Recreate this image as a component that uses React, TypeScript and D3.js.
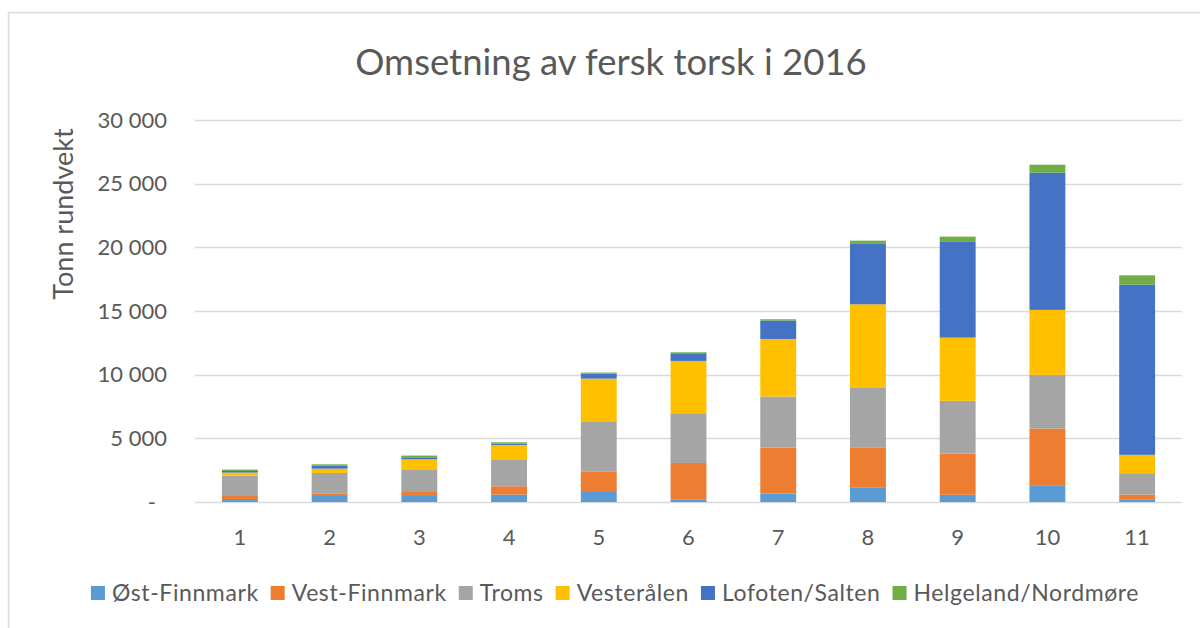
import React, { useEffect, useRef } from "react";
import * as d3 from "d3";

// Months of 2016 (x categories)
const months = ["1", "2", "3", "4", "5", "6", "7", "8", "9", "10", "11"];

// Tonnes per region
const ostFinnmark = [235, 470, 470, 580, 785, 210, 660, 1115, 565, 1320, 220];
const vestFinnmark = [235, 210, 315, 655, 1625, 2855, 3615, 3140, 3240, 4450, 370];
const troms = [1605, 1600, 1730, 2065, 3930, 3905, 4005, 4755, 4140, 4215, 1670];
const vesteralen = [235, 340, 840, 1180, 3350, 4110, 4525, 6515, 4965, 5100, 1445];
const lofotenSalten = [125, 240, 155, 110, 395, 600, 1445, 4790, 7515, 10780, 13365];
const helgelandNordmore = [110, 100, 135, 100, 80, 80, 100, 210, 415, 625, 730];

const seriesNames = [
  "Øst-Finnmark",
  "Vest-Finnmark",
  "Troms",
  "Vesterålen",
  "Lofoten/Salten",
  "Helgeland/Nordmøre",
];
const seriesColors = ["#5b9bd5", "#ed7d31", "#a5a5a5", "#ffc000", "#4472c4", "#70ad47"];
const yTicks = [0, 5000, 10000, 15000, 20000, 25000, 30000];

const FONT = "Lato, 'Open Sans', sans-serif";
const TEXT = "#595959";

function App() {
  const ref = useRef<SVGSVGElement | null>(null);

  useEffect(() => {
    if (!ref.current) return;
    const svg = d3.select(ref.current);
    svg.selectAll("*").remove();

    const W = 1200;
    const H = 628;
    const plot = { left: 195, right: 1182, top: 120, bottom: 502 };

    // chart frame
    svg
      .append("rect")
      .attr("x", 8.5)
      .attr("y", 12.5)
      .attr("width", W + 20)
      .attr("height", H + 20)
      .attr("fill", "#fff")
      .attr("stroke", "#d9d9d9")
      .attr("stroke-width", 1.5);

    const allSeries = [ostFinnmark, vestFinnmark, troms, vesteralen, lofotenSalten, helgelandNordmore];
    const table = months.map((m, i) => {
      const row: any = { month: m };
      seriesNames.forEach((s, j) => (row[s] = allSeries[j][i]));
      return row;
    });

    const x = d3.scaleBand().domain(months).range([plot.left, plot.right]).padding(0);
    const y = d3.scaleLinear().domain([0, 30000]).range([plot.bottom, plot.top]);

    // gridlines
    svg
      .append("g")
      .selectAll("line")
      .data(yTicks)
      .enter()
      .append("line")
      .attr("x1", plot.left)
      .attr("x2", plot.right)
      .attr("y1", (d) => Math.round(y(d)) + 0.5)
      .attr("y2", (d) => Math.round(y(d)) + 0.5)
      .attr("stroke", "#d9d9d9")
      .attr("stroke-width", 1.3);

    // y tick labels
    svg
      .append("g")
      .selectAll("text")
      .data(yTicks)
      .enter()
      .append("text")
      .attr("x", (d) => (d === 0 ? 156 : 167))
      .attr("y", (d) => y(d))
      .attr("dy", "0.35em")
      .attr("text-anchor", "end")
      .attr("font-family", FONT)
      .attr("font-size", 22)
      .attr("fill", TEXT)
      .text((d) => (d === 0 ? "-" : d3.format(",")(d).replace(",", " ")));

    // stacked bars
    const stack = d3.stack<any>().keys(seriesNames)(table);
    const barW = x.bandwidth() * 0.4;
    svg
      .append("g")
      .selectAll("g")
      .data(stack)
      .enter()
      .append("g")
      .attr("fill", (_d, i) => seriesColors[i])
      .selectAll("rect")
      .data((d) => d)
      .enter()
      .append("rect")
      .attr("x", (d: any) => (x(d.data.month) as number) + (x.bandwidth() - barW) / 2)
      .attr("width", barW)
      .attr("y", (d) => y(d[1]))
      .attr("height", (d) => y(d[0]) - y(d[1]));

    // x labels
    svg
      .append("g")
      .selectAll("text")
      .data(months)
      .enter()
      .append("text")
      .attr("x", (d) => (x(d) as number) + x.bandwidth() / 2)
      .attr("y", 545)
      .attr("text-anchor", "middle")
      .attr("font-family", FONT)
      .attr("font-size", 22)
      .attr("fill", TEXT)
      .text((d) => d);

    // title
    svg
      .append("text")
      .attr("x", 611)
      .attr("y", 75)
      .attr("text-anchor", "middle")
      .attr("font-family", FONT)
      .attr("font-size", 36.5)
      .attr("fill", TEXT)
      .text("Omsetning av fersk torsk i 2016");

    // y axis title
    svg
      .append("text")
      .attr("transform", "translate(73,214) rotate(-90)")
      .attr("text-anchor", "middle")
      .attr("font-family", FONT)
      .attr("font-size", 27)
      .attr("fill", TEXT)
      .text("Tonn rundvekt");

    // legend, centred under the chart
    const legend = svg.append("g");
    const items = legend
      .selectAll("g")
      .data(seriesNames)
      .enter()
      .append("g");
    items
      .append("rect")
      .attr("y", 586)
      .attr("width", 14)
      .attr("height", 14)
      .attr("fill", (_d, i) => seriesColors[i]);
    items
      .append("text")
      .attr("x", 21)
      .attr("y", 593)
      .attr("dy", "0.35em")
      .attr("font-family", FONT)
      .attr("font-size", 23)
      .attr("letter-spacing", 0.6)
      .attr("fill", TEXT)
      .text((d) => d);
    let offset = 0;
    const widths: number[] = [];
    items.each(function () {
      const t = d3.select(this).select("text").node() as SVGTextElement;
      widths.push(21 + t.getComputedTextLength());
    });
    const gap = 12;
    const total = d3.sum(widths) + gap * (widths.length - 1);
    const start = 615 - total / 2;
    items.attr("transform", (_d, i) => {
      const tx = start + offset;
      offset += widths[i] + gap;
      return `translate(${tx},0)`;
    });
  }, []);

  return (
    <svg
      ref={ref}
      width={1200}
      height={628}
      style={{ position: "fixed", left: 0, top: 0, display: "block", background: "#fff" }}
    />
  );
}

export default App;
